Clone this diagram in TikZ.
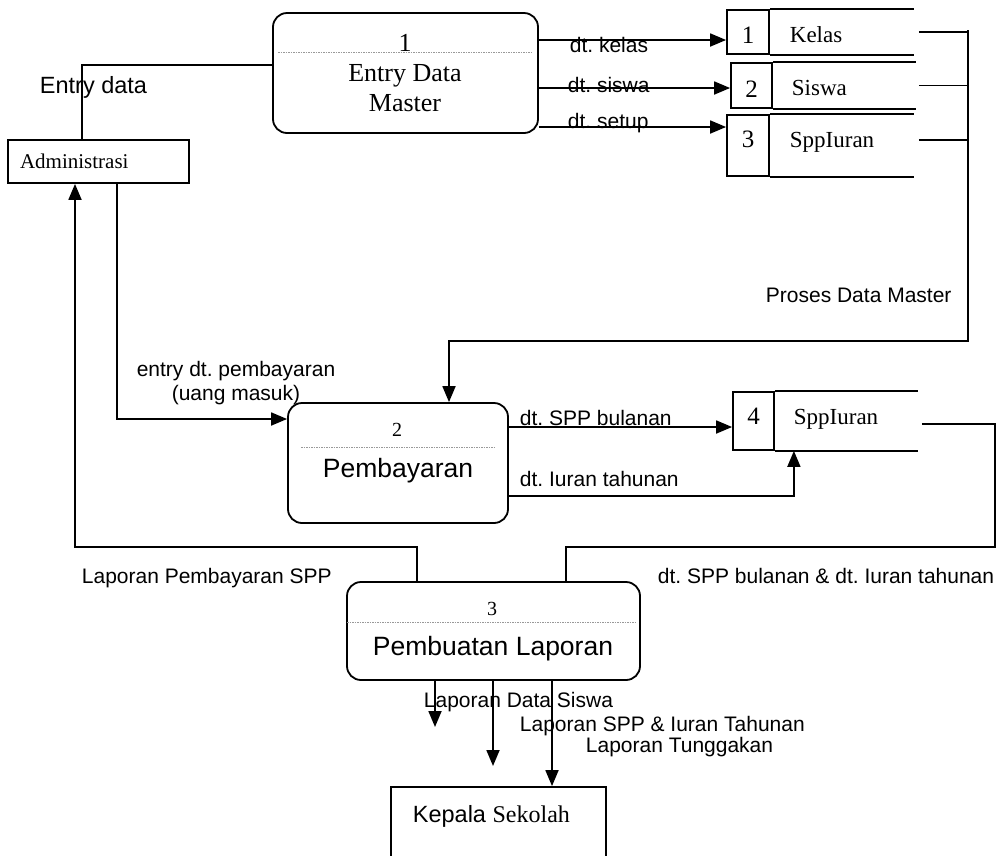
\documentclass[tikz,border=0pt]{standalone}
\usepackage{fontspec}
\setmainfont{Liberation Serif}
\setsansfont{Liberation Sans}
\usetikzlibrary{arrows.meta}
\frenchspacing

\tikzset{
	proc/.style={draw, rounded corners=14pt},
	ent/.style={draw},
	numbox/.style={draw, inner sep=0pt, font=\fontsize{25}{28}\selectfont},
	procno/.style={anchor=base, inner sep=0pt, font=\fontsize{20}{24}\selectfont},
	procname/.style={anchor=base, inner sep=0pt, font=\sffamily\fontsize{26.5}{30}\selectfont},
	storename/.style={anchor=base west, inner sep=0pt, font=\fontsize{23}{26}\selectfont},
	flowlabel/.style={anchor=base west, inner sep=0pt, font=\sffamily\fontsize{21}{24}\selectfont},
	sepline/.style={gray!80, densely dashed, dash pattern=on 1.5pt off 1pt, line width=0.8pt},
}

\begin{document}
\begin{tikzpicture}[x=1pt, y=-1pt, line width=1.8pt, >={Triangle[length=16pt,width=13pt]}]
			\useasboundingbox (0,0) rectangle (1002,855);

			\node[proc, minimum width=265pt, minimum height=120pt]  (p1)       at (405.5,73) {};
			\node[procno, font=\fontsize{26}{30}\selectfont]         (p1 no)    at (405,51)   {1};
			\node[anchor=north, inner sep=0pt, align=center, font=\fontsize{26}{30}\selectfont] (p1 name) at (405,63.8) {Entry Data\\Master};
			\draw[sepline] ([xshift=6pt,yshift=-40pt]p1.north west) -- ([xshift=-7pt,yshift=-40pt]p1.north east);

			\node[proc, minimum width=220pt, minimum height=120pt]  (p2)       at (398,463)  {};
			\node[procno]                                           (p2 no)    at (397,436)  {2};
			\node[procname]                                         (p2 name)  at (398,477)  {Pembayaran};
			\draw[sepline] ([xshift=14pt,yshift=-45pt]p2.north west) -- ([xshift=-13pt,yshift=-45pt]p2.north east);

			\node[proc, minimum width=293pt, minimum height=98pt]   (p3)       at (493.5,631) {};
			\node[procno]                                           (p3 no)    at (492,615)  {3};
			\node[procname]                                         (p3 name)  at (493,655)  {Pembuatan Laporan};
			\draw[sepline] ([xshift=1pt,yshift=-41pt]p3.north west) -- ([xshift=-5pt,yshift=-41pt]p3.north east);

			\node[ent, text width=157pt, inner xsep=12pt, minimum height=43pt, align=left, font=\fontsize{21}{24}\selectfont] (admin) at (98.5,161.5) {Administrasi};
			\node[ent, minimum width=215pt, minimum height=94pt]    (kep)      at (498.5,834) {};
			\node[anchor=base west, inner sep=0pt]                  (kep name) at (412,822)  {\sffamily\fontsize{23.5}{26}\selectfont Kepala \rmfamily\fontsize{24}{26}\selectfont Sekolah};

			\node[numbox, minimum width=42pt, minimum height=44pt, text height=22pt, text depth=0pt] (s1) at (748,32)    {1};
			\node[numbox, minimum width=41pt, minimum height=45pt, text height=23pt, text depth=0pt] (s2) at (751.5,85.5) {2};
			\node[numbox, minimum width=42pt, minimum height=61pt, text depth=12pt]                  (s3) at (748,145.5) {3};
			\node[numbox, minimum width=41pt, minimum height=58pt, text depth=9pt]                   (s4) at (753.5,421) {4};
			\node[storename] (s1 name) at (789,42)  {Kelas};
			\node[storename] (s2 name) at (791,95)  {Siswa};
			\node[storename] (s3 name) at (789,147) {SppIuran};
			\node[storename] (s4 name) at (793,424) {SppIuran};
			\draw (s1.north east) -- ++(144,0) (s1.south east) -- ++(144,0);
			\draw (s2.north east) -- ++(143,0) (s2.south east) -- ++(143,0);
			\draw (s3.north east) -- ++(144,0) (s3.south east) -- ++(144,0);
			\draw (s4.north east) -- ++(143,0) (s4.south east) -- ++(143,0);

			\coordinate (p1 o1)  at ([yshift=33pt]p1.east);
			\coordinate (p1 o2)  at ([yshift=-15pt]p1.east);
			\coordinate (p1 o3)  at ([yshift=-54pt]p1.east);
			\coordinate (p2 o1)  at ([yshift=36pt]p2.east);
			\coordinate (s3 o)   at ([xshift=149pt,yshift=5.5pt]s3.east);
			\coordinate (bus top) at (968,30);
			\coordinate (bus bot) at (968,341);
			\coordinate (lap r)  at (995,547);
			\coordinate (lap l)  at (75,547);
			\coordinate (ds end) at (435,727);
			\coordinate (spp end) at (493,766);

			\draw (admin.north) ++(-16.5,0) |- ([yshift=8pt]p1.west);
			\draw[->] (p1 o1) -- (p1 o1 -| s1.west);
			\draw[->] (p1 o2) -- (p1 o2 -| s2.west);
			\draw[->] (p1 o3) -- (p1 o3 -| s3.west);
			\draw ([xshift=149pt]s1.east) -- (s1.east -| bus top);
			\draw ([xshift=146pt]s2.east) -- (s2.east -| bus top);
			\draw (s3 o) -- (s3 o -| bus top);
			\draw[->] (bus top) -- (bus bot) -| ([xshift=51pt]p2.north);
			\draw[->] ([xshift=18.5pt]admin.south) |- ([yshift=44pt]p2.west);
			\draw[->] (p2 o1) -- (p2 o1 -| s4.west);
			\draw[->] ([yshift=-33pt]p2.east) -| ([xshift=19pt]s4.south east);
			\draw ([xshift=147pt,yshift=-3pt]s4.east) -| (lap r) -| ([xshift=72.5pt]p3.north);
			\draw[->] ([xshift=-76.5pt]p3.north) |- (lap l) -- ([xshift=-23.5pt]admin.south);
			\draw[->] ([xshift=-58.5pt]p3.south) -- (ds end);
			\draw[->] ([xshift=-0.5pt]p3.south) -- (spp end);
			\draw[->] ([xshift=58.5pt]p3.south) -- ([xshift=53.5pt]kep.north);

			\node[anchor=base, inner sep=0pt, font=\sffamily\fontsize{23.5}{26}\selectfont] (lbl entry) at (93.5,93) {Entry data};
			\node[flowlabel] (lbl kelas)    at (569,52)  {dt. kelas};
			\node[flowlabel] (lbl siswa)    at (567,92)  {dt. siswa};
			\node[flowlabel] (lbl setup)    at (567,128) {dt. setup};
			\node[flowlabel] (lbl master)   at (765,302) {Proses Data Master};
			\node[flowlabel, anchor=north, align=center] (lbl bayar) at (236,360.7) {entry dt. pembayaran\\(uang masuk)};
			\node[flowlabel] (lbl bulanan)  at (519,425) {dt. SPP bulanan};
			\node[flowlabel] (lbl tahunan)  at (519,486) {dt. Iuran tahunan};
			\node[flowlabel] (lbl iuran)    at (657,583) {dt. SPP bulanan \& dt. Iuran tahunan};
			\node[flowlabel] (lbl lapspp)   at (81,583)  {Laporan Pembayaran SPP};
			\node[flowlabel] (lbl ds)       at (423,707) {Laporan Data Siswa};
			\node[flowlabel] (lbl sppiuran) at (519,731) {Laporan SPP \& Iuran Tahunan};
			\node[flowlabel] (lbl tunggak)  at (585,752) {Laporan Tunggakan};
		\end{tikzpicture}
\end{document}
